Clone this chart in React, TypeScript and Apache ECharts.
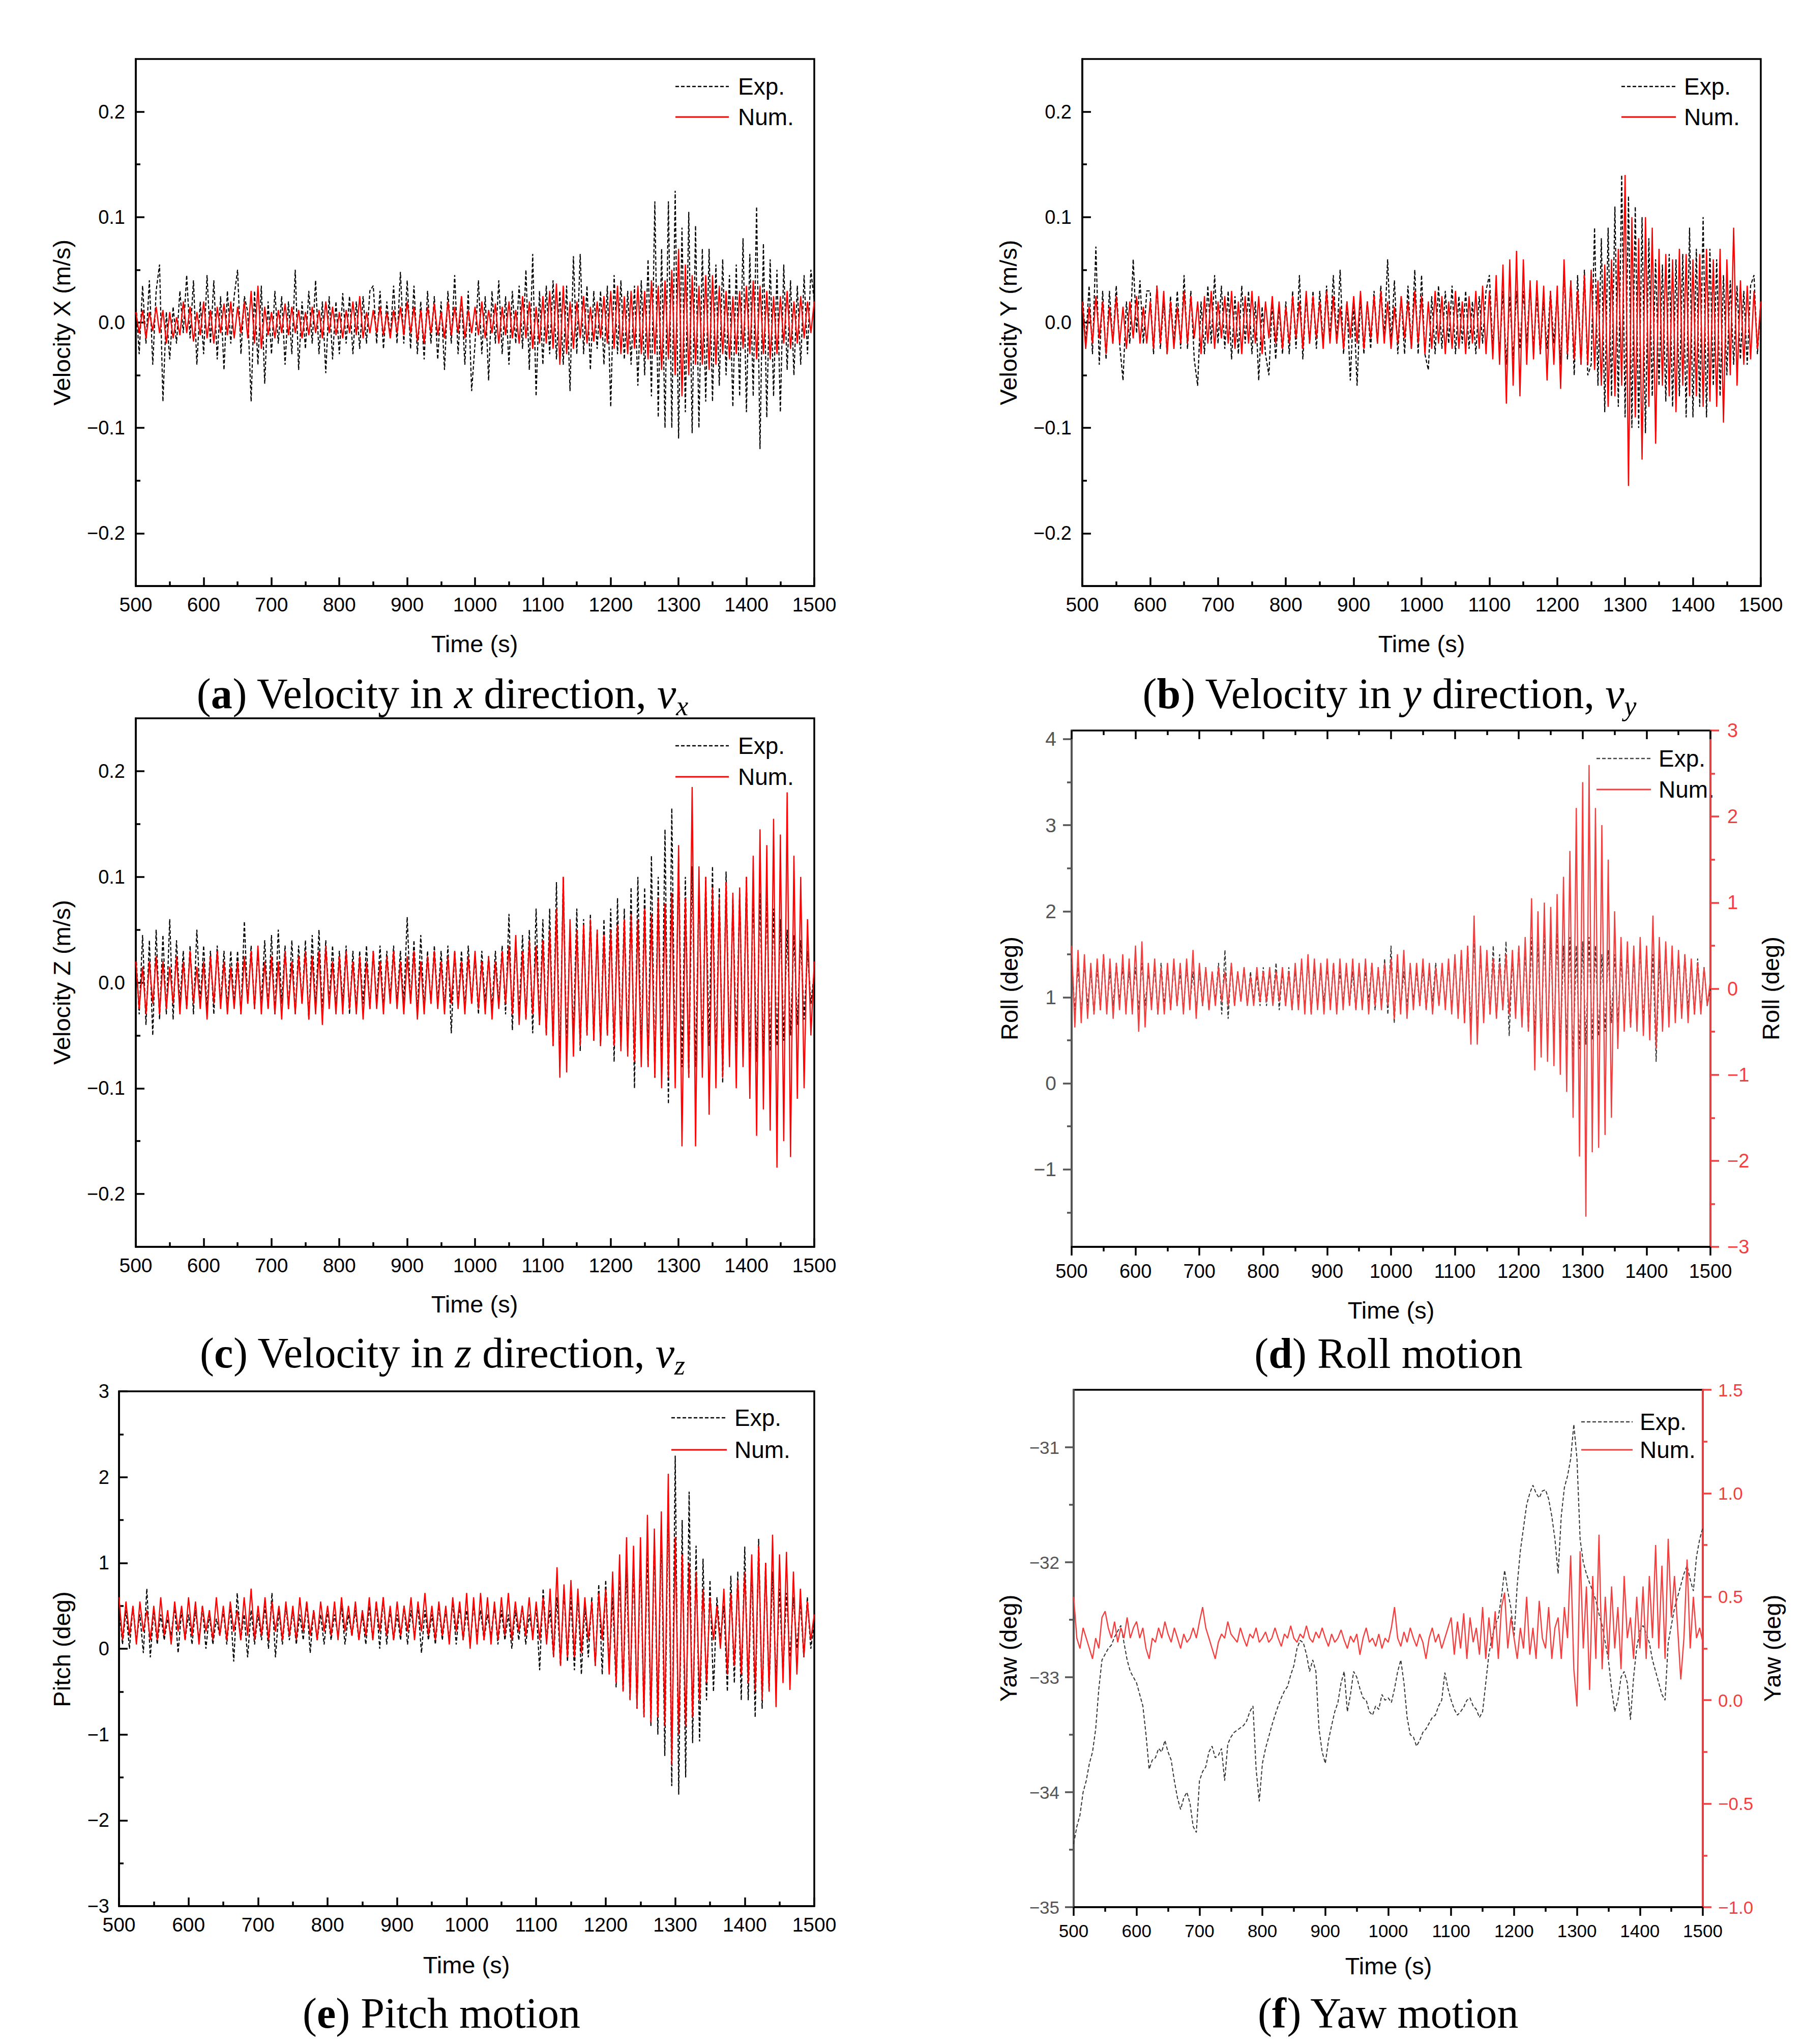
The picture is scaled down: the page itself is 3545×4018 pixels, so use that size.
import React, { useEffect, useRef } from "react";
import * as echarts from "echarts";

// ---------- sampling of the time axis (s) ----------
const T_START = 500;
const T_STEP = 5;

// ---------- (a) velocity x (m/s) ----------
const vxExp = [
  .02,-.03,.035,-.02,.04,-.04,.03,.055,-.075,.01,
  -.035,.015,-.02,.03,-.01,.045,-.015,.04,-.04,.02,
  -.03,.045,-.02,.04,-.035,.025,-.045,.03,-.02,.025,
  .05,-.03,.025,.01,-.075,.03,-.04,.035,-.058,.02,
  -.03,.03,-.02,.025,-.04,.02,-.03,.05,-.045,.02,
  -.025,.03,-.02,.04,-.03,.02,-.048,.025,-.035,.02,
  -.03,.028,-.02,.025,-.03,.02,-.025,.025,-.02,.03,
  .035,-.02,.03,-.025,.02,-.015,.035,-.02,.048,-.02,
  .04,-.025,.035,-.03,.02,-.035,.03,-.02,.025,-.035,
  .02,-.045,.03,-.02,.045,-.03,.025,-.04,.03,-.065,
  -.02,.04,-.03,.025,-.055,.03,-.02,.04,-.03,.025,
  -.04,.03,-.02,.035,-.025,.05,-.045,.065,-.07,.03,
  -.04,.035,-.03,.04,-.035,.03,-.04,.035,-.065,.063,
  -.03,.065,-.03,.035,-.045,.03,-.025,.03,-.04,.035,
  -.08,.045,-.03,.04,-.035,.03,-.04,.035,-.06,.04,
  -.05,.06,-.07,.115,-.09,.07,-.1,.115,-.1,.125,
  -.11,.09,-.085,.105,-.105,.092,-.1,.07,-.075,.07,
  -.075,.055,-.06,.06,-.05,.045,-.08,.055,-.07,.08,
  -.085,.065,-.07,.11,-.12,.075,-.09,.06,-.07,.05,
  -.085,.055,-.045,.04,-.05,.035,-.04,.045,-.03,.05,
  .02,
];
const vxNum = [
  .01,-.01,.012,-.015,.01,-.008,.015,-.01,.012,-.02,
  .01,-.015,.005,-.012,.02,-.01,.015,-.018,.01,-.012,
  .02,-.015,.012,-.02,.015,-.01,.018,-.012,.02,-.015,
  .015,-.01,.02,-.015,.03,-.02,.035,-.025,.015,-.012,
  .01,-.015,.012,-.01,.018,-.012,.015,-.01,.012,-.015,
  .01,-.012,.015,-.01,.012,-.015,.02,-.01,.015,-.012,
  .01,-.015,.012,-.01,.02,-.012,.025,-.015,.01,-.01,
  .012,-.01,.015,-.012,.01,-.015,.012,-.01,.015,-.012,
  .02,-.01,.015,-.018,.012,-.02,.015,-.01,.018,-.012,
  .01,-.015,.02,-.012,.015,-.01,.025,-.015,.012,-.01,
  .015,-.012,.02,-.015,.012,-.01,.018,-.02,.015,-.012,
  .02,-.015,.012,-.02,.025,-.015,.02,-.025,.015,-.02,
  .025,-.02,.03,-.025,.037,-.04,.035,-.03,.02,-.025,
  .02,-.015,.025,-.02,.015,-.018,.02,-.015,.025,-.02,
  .03,-.025,.035,-.03,.025,-.03,.03,-.025,.035,-.03,
  .03,-.035,.04,-.03,.035,-.045,.04,-.035,.05,-.05,
  .07,-.07,.055,-.05,.045,-.04,.035,-.04,.045,-.045,
  .045,-.04,.035,-.03,.03,-.035,.025,-.03,.03,-.025,
  .035,-.03,.04,-.035,.035,-.03,.03,-.035,.025,-.03,
  .025,-.02,.03,-.025,.02,-.02,.025,-.015,.02,-.01,
  .02,
];

// ---------- (b) velocity y (m/s) ----------
const vyExp = [
  .03,-.02,.035,-.03,.072,-.04,.03,-.035,.03,-.02,
  .035,-.02,-.055,.02,-.02,.06,-.01,.04,-.02,.03,
  .03,-.03,.035,-.025,.02,-.03,.025,-.02,.03,-.025,
  .045,-.025,.03,-.035,-.06,.02,-.03,.035,-.02,.045,
  -.02,.035,-.025,.03,-.035,.025,-.03,.035,-.02,.03,
  -.03,.02,-.055,.015,-.03,-.05,.02,-.035,.015,-.03,
  .02,-.03,.03,-.025,.045,-.035,.025,-.02,.03,-.025,
  .03,-.02,.035,-.015,.045,-.02,.05,-.03,.02,-.055,
  .02,-.06,.025,-.03,.02,-.025,.03,-.02,.035,-.015,
  .06,-.02,.04,-.03,.025,-.03,.035,-.025,.05,-.03,
  .045,-.03,-.045,.025,-.03,.035,-.025,.03,-.02,.035,
  -.03,.025,-.02,.03,-.025,.02,-.03,.025,-.02,.03,
  .045,-.025,.035,-.03,.03,-.04,.025,-.035,.03,-.025,
  .03,-.02,.035,-.025,.025,-.03,.02,-.025,.03,-.02,
  .03,-.04,.05,-.035,.04,-.05,.045,-.04,.05,-.05,
  -.04,.09,-.06,.08,-.085,.09,-.07,.11,-.08,.14,
  -.09,.12,-.1,.11,-.1,.1,-.105,.08,-.07,.06,
  -.06,.055,-.075,.065,-.08,.06,-.07,.065,-.09,.09,
  -.09,.07,-.08,.1,-.09,.07,-.06,.06,-.07,.045,
  -.05,.04,-.04,.035,-.035,.03,-.04,.035,.045,-.03,
  .02,
];
const vyNum = [
  .02,-.025,.015,-.02,.025,-.015,.02,-.03,.015,-.02,
  .025,-.02,.015,-.025,.02,-.015,.025,-.02,.015,-.02,
  .02,-.025,.035,-.02,.03,-.03,.02,-.025,.015,-.02,
  .03,-.02,.025,-.015,.02,-.03,.025,-.02,.03,-.025,
  .02,-.015,.025,-.02,.03,-.025,.02,-.03,.025,-.02,
  .03,-.02,.025,-.03,.02,-.015,.025,-.02,.02,-.025,
  .015,-.02,.025,-.015,.02,-.025,.03,-.02,.025,-.015,
  .02,-.025,.03,-.02,.025,-.02,.015,-.025,.02,-.015,
  .025,-.02,.03,-.025,.02,-.015,.025,-.02,.03,-.02,
  .02,-.025,.015,-.02,.025,-.015,.02,-.025,.03,-.02,
  .025,-.03,.02,-.025,.03,-.02,.025,-.03,.02,-.025,
  .03,-.025,.02,-.03,.025,-.02,.03,-.025,.035,-.03,
  .03,-.035,.045,-.04,.055,-.077,.06,-.06,.068,-.07,
  .06,-.04,.04,-.035,.04,-.03,.035,-.055,.03,-.04,
  .035,-.063,.06,-.03,.04,-.035,.03,-.04,.045,-.04,
  .05,-.045,.04,-.06,.055,-.08,.06,-.07,.07,-.06,
  .14,-.155,.1,-.09,.08,-.13,.1,-.08,.09,-.115,
  .07,-.06,.065,-.07,.06,-.085,.07,-.06,.065,-.07,
  .06,-.07,.065,-.08,.07,-.075,.06,-.08,.07,-.095,
  .06,-.05,.09,-.06,.04,-.04,.035,-.035,.03,-.025,
  .02,
];

// ---------- (c) velocity z (m/s) ----------
const vzExp = [
  .03,-.03,.045,-.04,.04,-.05,.05,-.035,.045,-.03,
  .06,-.035,.04,-.02,.03,-.025,.035,-.03,.05,-.02,
  .035,-.025,.03,-.03,.035,-.02,.03,-.025,.03,-.02,
  .03,-.03,.058,-.02,.035,-.025,.03,-.02,.04,-.025,
  .045,-.03,.05,-.02,.035,-.025,.04,-.03,.035,-.02,
  .04,-.035,.045,-.025,.05,-.03,.04,-.02,.035,-.025,
  .03,-.02,.035,-.03,.03,-.025,.03,-.02,.035,-.025,
  .03,-.02,.035,-.025,.03,-.015,.035,-.02,.03,-.02,
  .062,-.02,.04,-.03,.045,-.025,.03,-.02,.035,-.02,
  .03,-.025,.035,-.048,.03,-.02,.03,-.025,.035,-.02,
  .025,-.03,.03,-.02,.025,-.025,.03,-.02,.035,-.03,
  .065,-.045,.04,-.03,.045,-.035,.05,-.048,.07,-.04,
  .06,-.05,.07,-.06,.095,-.08,.1,-.06,.05,-.05,
  .07,-.065,.06,-.05,.065,-.055,.05,-.06,.06,-.05,
  .07,-.075,.08,-.06,.07,-.065,.09,-.1,.1,-.07,
  .09,-.08,.12,-.09,.1,-.085,.145,-.115,.165,-.09,
  .12,-.08,.1,-.09,.11,-.08,.09,-.07,.1,-.06,
  .11,-.08,.09,-.095,.105,-.07,.08,-.06,.085,-.07,
  .1,-.08,.09,-.075,.085,-.07,.08,-.065,.07,-.06,
  .06,-.055,.05,-.05,.045,-.04,.04,-.035,.03,-.02,
  .01,
];
const vzNum = [
  .02,-.025,.015,-.03,.02,-.02,.025,-.03,.02,-.025,
  .015,-.02,.025,-.03,.02,-.025,.03,-.02,.015,-.025,
  .02,-.035,.025,-.02,.03,-.025,.02,-.03,.015,-.025,
  .02,-.03,.025,-.02,.03,-.025,.035,-.03,.02,-.025,
  .025,-.03,.02,-.035,.03,-.025,.02,-.03,.025,-.02,
  .03,-.035,.025,-.03,.03,-.04,.035,-.025,.02,-.03,
  .025,-.03,.03,-.025,.02,-.03,.025,-.035,.02,-.025,
  .03,-.025,.02,-.03,.025,-.02,.03,-.025,.02,-.03,
  .025,-.02,.03,-.035,.02,-.03,.025,-.02,.03,-.025,
  .02,-.03,.025,-.02,.03,-.025,.02,-.03,.025,-.02,
  .03,-.025,.02,-.03,.025,-.035,.02,-.025,.03,-.02,
  .035,-.03,.045,-.04,.03,-.035,.04,-.03,.035,-.04,
  .04,-.05,.05,-.06,.07,-.09,.1,-.085,.06,-.07,
  .05,-.06,.055,-.05,.06,-.055,.05,-.06,.045,-.05,
  .05,-.06,.055,-.065,.06,-.07,.065,-.075,.06,-.08,
  .07,-.08,.065,-.09,.08,-.1,.075,-.09,.085,-.1,
  .13,-.155,.08,-.09,.185,-.155,.11,-.09,.1,-.125,
  .09,-.1,.08,-.09,.095,-.08,.085,-.1,.09,-.08,
  .1,-.11,.12,-.145,.145,-.12,.13,-.14,.155,-.175,
  .14,-.15,.18,-.165,.12,-.11,.1,-.1,.06,-.05,
  .02,
];

// ---------- (d) roll (deg) ----------
const rollExp = [
  1.45,.85,1.35,.8,1.4,.9,1.3,.8,1.35,.85,
  1.5,.85,1.3,.9,1.4,.95,1.35,.85,1.3,.9,
  1.35,.85,1.4,.9,1.3,.95,1.35,.8,1.4,.9,
  1.35,.85,1.4,.9,1.3,.85,1.35,.9,1.3,.85,
  1.3,.9,1.35,.85,1.3,.95,1.4,.8,1.55,.75,
  1.4,.9,1.3,.95,1.35,.9,1.3,.95,1.25,.9,
  1.35,.9,1.3,.95,1.4,.85,1.3,.9,1.35,.85,
  1.3,.95,1.4,.85,1.45,.8,1.35,.9,1.3,.95,
  1.35,.9,1.4,.85,1.3,.95,1.35,.9,1.3,.85,
  1.35,.9,1.3,.95,1.4,.85,1.35,.9,1.45,.8,
  1.6,.7,1.4,.85,1.3,.9,1.35,.95,1.3,.9,
  1.35,.85,1.3,.95,1.4,.9,1.35,.9,1.4,.85,
  1.45,.8,1.5,.7,1.6,.65,1.7,.6,1.55,.75,
  1.45,.8,1.6,.75,1.5,.85,1.65,.55,1.45,.8,
  1.6,.7,1.55,.6,1.7,.55,1.65,.5,1.75,.45,
  1.7,.5,1.75,.4,1.6,.5,1.7,.3,1.6,.4,
  1.65,.45,1.7,.5,1.6,.55,1.5,.6,1.55,.7,
  1.5,.7,1.45,.75,1.55,.65,1.5,.7,1.6,.7,
  1.55,.65,1.5,.25,1.45,.7,1.6,.75,1.5,.8,
  1.45,.8,1.5,.85,1.4,.8,1.45,.85,1.35,.9,
  1.1,
];
const rollNum = [
  .5,-.45,.45,-.4,.4,-.35,.3,-.3,.35,-.25,
  .4,-.3,.35,-.35,.3,-.25,.4,-.3,.35,-.3,
  .5,-.5,.55,-.45,.3,-.25,.35,-.3,.25,-.3,
  .3,-.25,.35,-.2,.3,-.3,.35,-.25,.45,-.35,
  .3,-.2,.25,-.25,.2,-.2,.25,-.15,.2,-.2,
  .3,-.2,.2,-.15,.25,-.2,.15,-.2,.25,-.15,
  .2,-.15,.25,-.2,.2,-.15,.25,-.2,.2,-.25,
  .3,-.25,.35,-.3,.4,-.3,.35,-.25,.3,-.3,
  .35,-.25,.3,-.3,.35,-.25,.3,-.2,.35,-.25,
  .3,-.25,.35,-.3,.3,-.2,.25,-.25,.3,-.2,
  .35,-.35,.4,-.3,.45,-.35,.3,-.25,.3,-.2,
  .35,-.25,.3,-.3,.25,-.2,.3,-.25,.35,-.3,
  .4,-.35,.45,-.4,.5,-.65,.85,-.65,.5,-.4,
  .45,-.3,.35,-.35,.3,-.25,.4,-.3,.45,-.35,
  .5,-.45,.6,-.5,1.05,-.95,.9,-.8,1.0,-.85,
  .95,-.9,1.1,-1.0,1.3,-1.2,1.6,-1.5,2.1,-1.95,
  2.4,-2.65,2.6,-1.9,2.1,-1.85,1.9,-1.7,1.5,-1.5,
  .9,-.7,.6,-.5,.55,-.45,.5,-.5,.6,-.55,
  .5,-.6,.85,-.7,.6,-.5,.55,-.45,.5,-.4,
  .45,-.35,.4,-.4,.35,-.3,.3,-.3,.25,-.2,
  .1,
];

// ---------- (e) pitch (deg) ----------
const pitchExp = [
  .5,.05,.45,0,.5,.1,.4,-.05,.7,-.1,
  .45,.05,.4,.1,.35,.15,.5,-.05,.45,.1,
  .4,.05,.45,.1,.5,0,.4,.05,.35,.15,
  .45,.05,.5,-.15,.65,.1,.4,-.1,.45,.05,
  .4,.1,.5,0,.65,-.1,.45,.05,.5,.1,
  .45,.05,.4,.1,.55,-.05,.45,.1,.4,.05,
  .45,.1,.4,.15,.5,.05,.4,.15,.45,.1,
  .4,.05,.5,.1,.55,0,.6,.05,.45,.1,
  .4,.1,.5,.05,.45,.15,.5,-.05,.45,.1,
  .4,.05,.5,.1,.45,.1,.55,.05,.5,.1,
  .45,.05,.5,.15,.45,.1,.4,.15,.5,.05,
  .45,.1,.4,0,.45,.1,.5,.05,.4,.15,
  .5,-.25,.7,.1,.45,-.1,.6,-.2,.7,-.15,
  .6,-.25,.65,-.3,.5,-.1,.6,-.2,.75,-.3,
  .8,-.2,.6,-.45,.9,-.5,.95,-.6,1.0,-.7,
  1.1,-.8,1.2,-.9,1.3,-1.0,1.45,-1.25,1.85,-1.6,
  2.25,-1.7,1.5,-1.5,1.83,-1.1,1.2,-1.08,1.05,-.6,
  .8,-.5,.6,.1,.5,-.5,.85,-.4,.9,-.6,
  1.19,-.6,1.0,-.8,1.28,-.7,1.0,-.5,.9,-.4,
  .7,-.3,.65,-.1,.6,0,.55,-.1,.6,0,
  .3,
];
const pitchNum = [
  .6,.1,.55,.15,.5,.05,.55,.2,.45,.1,
  .5,.1,.6,.15,.45,.05,.55,.2,.5,.1,
  .6,.15,.55,.05,.5,.2,.45,.1,.6,.15,
  .5,.1,.55,.2,.45,.1,.6,.15,.7,.1,
  .5,.15,.6,.1,.55,.2,.5,.1,.55,.15,
  .5,.1,.6,.2,.55,.15,.45,.1,.55,.2,
  .5,.15,.55,.1,.6,.2,.5,.15,.55,.1,
  .45,.15,.6,.1,.55,.2,.6,.15,.5,.1,
  .55,.15,.5,.2,.6,.1,.55,.2,.65,.15,
  .5,.1,.55,.15,.5,.05,.6,.2,.55,.1,
  .65,0,.6,.05,.65,.1,.6,.05,.55,.1,
  .6,.15,.65,.1,.55,.2,.5,.15,.6,.1,
  .55,.1,.6,.05,.7,-.1,.95,-.2,.75,-.1,
  .8,-.1,.7,-.05,.6,.1,.55,-.2,.65,.1,
  .7,-.3,.9,-.4,1.1,-.5,1.3,-.6,1.2,-.7,
  1.3,-.8,1.56,-.86,1.4,-.8,1.6,-.9,2.04,-1.35,
  1.3,-1.0,1.1,-.9,1.0,-.8,.9,-.6,.7,-.4,
  .6,.1,.5,0,.7,-.3,.65,-.2,.8,-.3,
  .9,-.4,1.1,-.5,1.2,-.6,1.0,-.5,1.33,-.68,
  1.1,-.4,1.13,-.48,.9,-.3,.7,-.1,.55,.1,
  .4,
];

// ---------- (f) yaw (deg) ----------
const yawExp = [
  -34.45,-34.3,-34.2,-34.0,-33.9,-33.75,-33.65,-33.45,-33.1,-32.85,
  -32.8,-32.75,-32.72,-32.65,-32.6,-32.55,-32.7,-32.85,-32.95,-33.0,
  -33.05,-33.15,-33.25,-33.5,-33.8,-33.72,-33.7,-33.62,-33.65,-33.55,
  -33.65,-33.72,-33.9,-34.05,-34.15,-34.05,-34.0,-34.1,-34.3,-34.35,
  -33.9,-33.82,-33.78,-33.65,-33.6,-33.7,-33.68,-33.62,-33.9,-33.58,
  -33.52,-33.48,-33.46,-33.44,-33.42,-33.38,-33.3,-33.25,-33.8,-34.08,
  -33.75,-33.62,-33.52,-33.42,-33.33,-33.25,-33.18,-33.12,-33.08,-32.98,
  -32.9,-32.75,-32.68,-32.7,-32.8,-32.95,-32.85,-32.95,-33.45,-33.65,
  -33.75,-33.55,-33.42,-33.3,-33.22,-33.05,-32.95,-33.3,-33.15,-32.95,
  -33.0,-33.1,-33.18,-33.2,-33.3,-33.33,-33.25,-33.28,-33.15,-33.2,
  -33.18,-33.22,-33.1,-32.95,-32.85,-33.05,-33.35,-33.5,-33.52,-33.6,
  -33.55,-33.48,-33.45,-33.4,-33.35,-33.33,-33.25,-33.2,-32.96,-33.1,
  -33.2,-33.28,-33.33,-33.3,-33.26,-33.2,-33.18,-33.25,-33.28,-33.35,
  -33.3,-33.05,-32.8,-32.65,-32.55,-32.48,-32.3,-32.07,-32.25,-32.4,
  -32.65,-32.2,-31.9,-31.7,-31.5,-31.4,-31.33,-31.4,-31.44,-31.38,
  -31.37,-31.45,-31.6,-31.8,-32.1,-31.6,-31.35,-31.25,-31.1,-30.8,
  -31.1,-31.8,-32.0,-32.1,-32.18,-32.25,-32.33,-32.45,-32.55,-32.7,
  -32.85,-33.1,-33.3,-33.2,-33.0,-32.95,-33.05,-33.37,-33.0,-32.74,
  -32.6,-32.55,-32.62,-32.7,-32.85,-32.95,-33.05,-33.15,-33.2,-32.7,
  -32.55,-32.4,-32.3,-32.2,-32.1,-32.03,-32.15,-32.25,-31.95,-31.8,
  -31.7,
];
const yawNum = [
  .5,.3,.25,.35,.3,.25,.2,.3,.25,.4,
  .43,.35,.3,.38,.28,.35,.3,.4,.3,.35,
  .38,.3,.35,.25,.2,.3,.28,.35,.3,.38,
  .32,.28,.35,.3,.25,.32,.28,.3,.35,.3,
  .38,.45,.35,.3,.25,.2,.28,.32,.3,.38,
  .32,.3,.28,.35,.3,.26,.32,.3,.35,.28,
  .3,.33,.28,.3,.35,.3,.26,.32,.3,.36,
  .3,.28,.32,.3,.36,.3,.28,.33,.3,.35,
  .3,.26,.32,.28,.3,.34,.29,.25,.31,.28,
  .32,.22,.3,.35,.28,.3,.26,.32,.25,.3,
  .28,.35,.45,.3,.26,.33,.28,.35,.3,.26,
  .32,.28,.2,.3,.35,.28,.32,.25,.3,.35,
  .4,.22,.38,.25,.42,.2,.4,.28,.35,.22,
  .45,.2,.4,.25,.43,.2,.45,.52,.25,.4,
  .3,.2,.35,.25,.5,.22,.35,.2,.48,.3,
  .25,.45,.2,.35,.4,.2,.45,.3,.7,.15,
  -.03,.72,.25,.55,.05,.6,.2,.8,.15,.5,
  .2,.55,.25,.45,.15,.6,.3,.4,.2,.5,
  .25,.55,.2,.6,.3,.75,.25,.65,.2,.78,
  .4,.6,.35,.1,.3,.68,.25,.5,.3,.35,
  .28,
];

// ---------- axis tick values ----------
const velMajor = [-0.2, -0.1, 0, 0.1, 0.2];
const velMinor = [-0.15, -0.05, 0.05, 0.15];
const rollLeftMajor = [-1, 0, 1, 2, 3, 4];
const rollLeftMinor = [-1.5, -0.5, 0.5, 1.5, 2.5, 3.5];
const rollRightMajor = [-3, -2, -1, 0, 1, 2, 3];
const rollRightMinor = [-2.5, -1.5, -0.5, 0.5, 1.5, 2.5];
const pitchMajor = [-3, -2, -1, 0, 1, 2, 3];
const pitchMinor = [-2.5, -1.5, -0.5, 0.5, 1.5, 2.5];
const yawLeftMajor = [-35, -34, -33, -32, -31];
const yawLeftMinor = [-34.5, -33.5, -32.5, -31.5];
const yawRightMajor = [-1, -0.5, 0, 0.5, 1, 1.5];
const yawRightMinor = [-0.75, -0.25, 0.25, 0.75, 1.25];

const SANS = "'Liberation Sans', Arial, Helvetica, sans-serif";
const SERIF = "'Liberation Serif', 'Times New Roman', serif";
const RED = "#ff0000";
const RED2 = "#f24040";
const GRAYLINE = "#555555";

const minus = (s: string) => s.replace("-", "\u2212");
const fmt1 = (v: number) => minus(v.toFixed(1));
const fmt0 = (v: number) => minus(String(Math.round(v)));
const fmtX = (v: number) => String(Math.round(v));
const toPts = (vals: number[]) => vals.map((v, i) => [T_START + i * T_STEP, v]);

function buildOption() {
  const grids: any[] = [];
  const xAxes: any[] = [];
  const yAxes: any[] = [];
  const series: any[] = [];
  const graphics: any[] = [];

  const addGrid = (left: number, top: number, width: number, height: number) => {
    grids.push({ left, top, width, height, show: true, borderColor: "#000", borderWidth: 3.5, backgroundColor: "transparent" });
    return grids.length - 1;
  };
  const addX = (g: number, margin: number, inside: boolean, fontSize: number, pos = "bottom", labels = true) => {
    xAxes.push({
      type: "value", gridIndex: g, position: pos, min: 500, max: 1500, interval: 100,
      axisLine: { show: pos === "bottom", onZero: false, lineStyle: { color: "#000", width: 3.5 } },
      axisTick: { show: true, inside, length: 17, lineStyle: { color: "#000", width: 3.5 } },
      minorTick: { show: true, splitNumber: 2, length: 9, lineStyle: { color: "#000", width: 3.5 } },
      axisLabel: { show: labels, margin, fontSize, fontFamily: SANS, color: "#000", formatter: fmtX },
      splitLine: { show: false }, minorSplitLine: { show: false },
    });
    return xAxes.length - 1;
  };
  const addY = (g: number, pos: string, min: number, max: number, majors: number[], minors: number[],
    fmt: (v: number) => string, margin: number, inside: boolean, fontSize: number, lineColor: string, labelColor: string) => {
    yAxes.push({
      type: "value", gridIndex: g, position: pos, min, max,
      axisLine: { show: true, onZero: false, lineStyle: { color: lineColor, width: 3.5 } },
      axisTick: { show: true, inside, length: 17, customValues: majors, lineStyle: { color: lineColor, width: 3.5 } },
      axisLabel: { show: true, customValues: majors, formatter: fmt, margin, fontSize, fontFamily: SANS, color: labelColor },
      splitLine: { show: false },
    });
    const major = yAxes.length - 1;
    yAxes.push({
      type: "value", gridIndex: g, position: pos, min, max,
      axisLine: { show: false, onZero: false },
      axisTick: { show: true, inside, length: 9, customValues: minors, lineStyle: { color: lineColor, width: 3.5 } },
      axisLabel: { show: false },
      splitLine: { show: false },
    });
    return major;
  };
  const addLine = (name: string, xi: number, yi: number, vals: number[], color: string, dashed: boolean, width: number, z: number) => {
    series.push({
      type: "line", name, xAxisIndex: xi, yAxisIndex: yi, data: toPts(vals),
      showSymbol: false, symbol: "none", silent: true, z,
      lineStyle: { color, width, type: dashed ? [7, 4] : "solid" },
    });
  };
  const text = (t: string, x: number, y: number, size: number, opts: any = {}) => {
    graphics.push({
      type: "text", x, y, rotation: opts.rotation || 0, silent: true,
      style: {
        text: t, fontSize: size, fontFamily: SANS, fill: opts.color || "#000",
        align: opts.align || "center", verticalAlign: "middle",
        textAlign: opts.align || "center", textVerticalAlign: "middle",
      },
    });
  };
  const legend = (x1: number, x2: number, tx: number, y1: number, y2: number, expColor: string, numColor: string) => {
    graphics.push({ type: "line", silent: true, shape: { x1, y1, x2, y2: y1 }, style: { stroke: expColor, lineWidth: 2.5, lineDash: [7, 4] } });
    graphics.push({ type: "line", silent: true, shape: { x1, y1: y2, x2, y2 }, style: { stroke: numColor, lineWidth: 3 } });
    text("Exp.", tx, y1, 46, { align: "left" });
    text("Num.", tx, y2, 46, { align: "left" });
  };
  const caption = (rich: string, x: number, y: number) => {
    const base = { fontFamily: SERIF, fontSize: 84, fill: "#000", color: "#000", lineHeight: 104 };
    graphics.push({
      type: "text", x, y, silent: true,
      style: {
        text: rich, align: "center", verticalAlign: "middle", textAlign: "center", textVerticalAlign: "middle",
        fontFamily: SERIF, fontSize: 84, fill: "#000",
        rich: {
          n: { ...base },
          b: { ...base, fontWeight: "bold" },
          i: { ...base, fontStyle: "italic" },
          s: { fontFamily: SERIF, fontSize: 54, fill: "#000", color: "#000", fontStyle: "italic", lineHeight: 60, verticalAlign: "bottom" },
        },
      },
    });
  };

  // (a)
  let g = addGrid(267, 116, 1334, 1036);
  let xi = addX(g, 17, true, 39);
  let yi = addY(g, "left", -0.25, 0.25, velMajor, velMinor, fmt1, 21, true, 38, "#000", "#000");
  addLine("Exp.", xi, yi, vxExp, "#000", true, 2.2, 2);
  addLine("Num.", xi, yi, vxNum, RED, false, 2.4, 3);
  legend(1328, 1433, 1451, 170, 230, "#000", RED);
  text("Velocity X (m/s)", 121, 634, 47, { rotation: Math.PI / 2 });
  text("Time (s)", 933, 1265, 47);
  caption("{n|(}{b|a}{n|) Velocity in }{i|x}{n| direction, }{i|v}{s|x}", 870, 1363);

  // (b)
  g = addGrid(2128, 116, 1334, 1036);
  xi = addX(g, 17, true, 39);
  yi = addY(g, "left", -0.25, 0.25, velMajor, velMinor, fmt1, 21, true, 38, "#000", "#000");
  addLine("Exp.", xi, yi, vyExp, "#000", true, 2.2, 2);
  addLine("Num.", xi, yi, vyNum, RED, false, 2.4, 3);
  legend(3188, 3295, 3311, 170, 230, "#000", RED);
  text("Velocity Y (m/s)", 1982, 634, 47, { rotation: Math.PI / 2 });
  text("Time (s)", 2795, 1265, 47);
  caption("{n|(}{b|b}{n|) Velocity in }{i|y}{n| direction, }{i|v}{s|y}", 2732, 1363);

  // (c)
  g = addGrid(267, 1412, 1334, 1039);
  xi = addX(g, 17, true, 39);
  yi = addY(g, "left", -0.25, 0.25, velMajor, velMinor, fmt1, 21, true, 38, "#000", "#000");
  addLine("Exp.", xi, yi, vzExp, "#000", true, 2.2, 2);
  addLine("Num.", xi, yi, vzNum, RED, false, 2.4, 3);
  legend(1328, 1433, 1451, 1466, 1527, "#000", RED);
  text("Velocity Z (m/s)", 121, 1931, 47, { rotation: Math.PI / 2 });
  text("Time (s)", 933, 2563, 47);
  caption("{n|(}{b|c}{n|) Velocity in }{i|z}{n| direction, }{i|v}{s|z}", 870, 2659);

  // (d)
  g = addGrid(2107, 1436, 1256, 1015);
  xi = addX(g, 29, false, 38);
  addX(g, 0, true, 38, "top", false);
  yi = addY(g, "left", -1.9, 4.1, rollLeftMajor, rollLeftMinor, fmt0, 30, false, 39, GRAYLINE, GRAYLINE);
  let yr = addY(g, "right", -3, 3, rollRightMajor, rollRightMinor, fmt0, 33, false, 38, RED2, RED2);
  addLine("Exp.", xi, yi, rollExp, "#333", true, 2, 2);
  addLine("Num.", xi, yr, rollNum, RED2, false, 2.4, 3);
  legend(3139, 3246, 3261, 1491, 1552, "#444", RED2);
  text("Roll (deg)", 1984, 1943, 47, { rotation: Math.PI / 2 });
  text("Roll (deg)", 3481, 1943, 47, { rotation: Math.PI / 2 });
  text("Time (s)", 2735, 2575, 47);
  caption("{n|(}{b|d}{n|) Roll motion}", 2730, 2660);

  // (e)
  g = addGrid(234, 2735, 1367, 1012);
  xi = addX(g, 17, true, 39);
  yi = addY(g, "left", -3, 3, pitchMajor, pitchMinor, fmt0, 19, true, 38, "#000", "#000");
  addLine("Exp.", xi, yi, pitchExp, "#000", true, 2.2, 2);
  addLine("Num.", xi, yi, pitchNum, RED, false, 2.4, 3);
  legend(1320, 1429, 1444, 2787, 2850, "#000", RED);
  text("Pitch (deg)", 121, 3242, 47, { rotation: Math.PI / 2 });
  text("Time (s)", 917, 3862, 47);
  caption("{n|(}{b|e}{n|) Pitch motion}", 868, 3957);

  // (f)
  g = addGrid(2111, 2732, 1237, 1017);
  xi = addX(g, 29, false, 35);
  yi = addY(g, "left", -35, -30.5, yawLeftMajor, yawLeftMinor, fmt0, 28, false, 35, GRAYLINE, GRAYLINE);
  yr = addY(g, "right", -1, 1.5, yawRightMajor, yawRightMinor, fmt1, 30, false, 35, RED2, RED2);
  addLine("Exp.", xi, yi, yawExp, "#333", true, 2, 2);
  addLine("Num.", xi, yr, yawNum, RED2, false, 2.4, 3);
  legend(3109, 3210, 3224, 2795, 2850, "#444", RED2);
  text("Yaw (deg)", 1982, 3240, 47, { rotation: Math.PI / 2 });
  text("Yaw (deg)", 3484, 3240, 47, { rotation: Math.PI / 2 });
  text("Time (s)", 2730, 3864, 47);
  caption("{n|(}{b|f}{n|) Yaw motion}", 2730, 3957);

  return {
    animation: false,
    backgroundColor: "#ffffff",
    textStyle: { fontFamily: SANS },
    grid: grids,
    xAxis: xAxes,
    yAxis: yAxes,
    series,
    graphic: { elements: graphics },
  };
}

export default function App() {
  const ref = useRef<HTMLDivElement>(null);
  useEffect(() => {
    if (!ref.current) return;
    const chart = echarts.init(ref.current, undefined, { renderer: "svg" });
    chart.setOption(buildOption() as any);
    return () => chart.dispose();
  }, []);
  return (
    <div
      ref={ref}
      style={{ position: "absolute", left: 0, top: 0, width: 3545, height: 4018, background: "#fff" }}
    />
  );
}
